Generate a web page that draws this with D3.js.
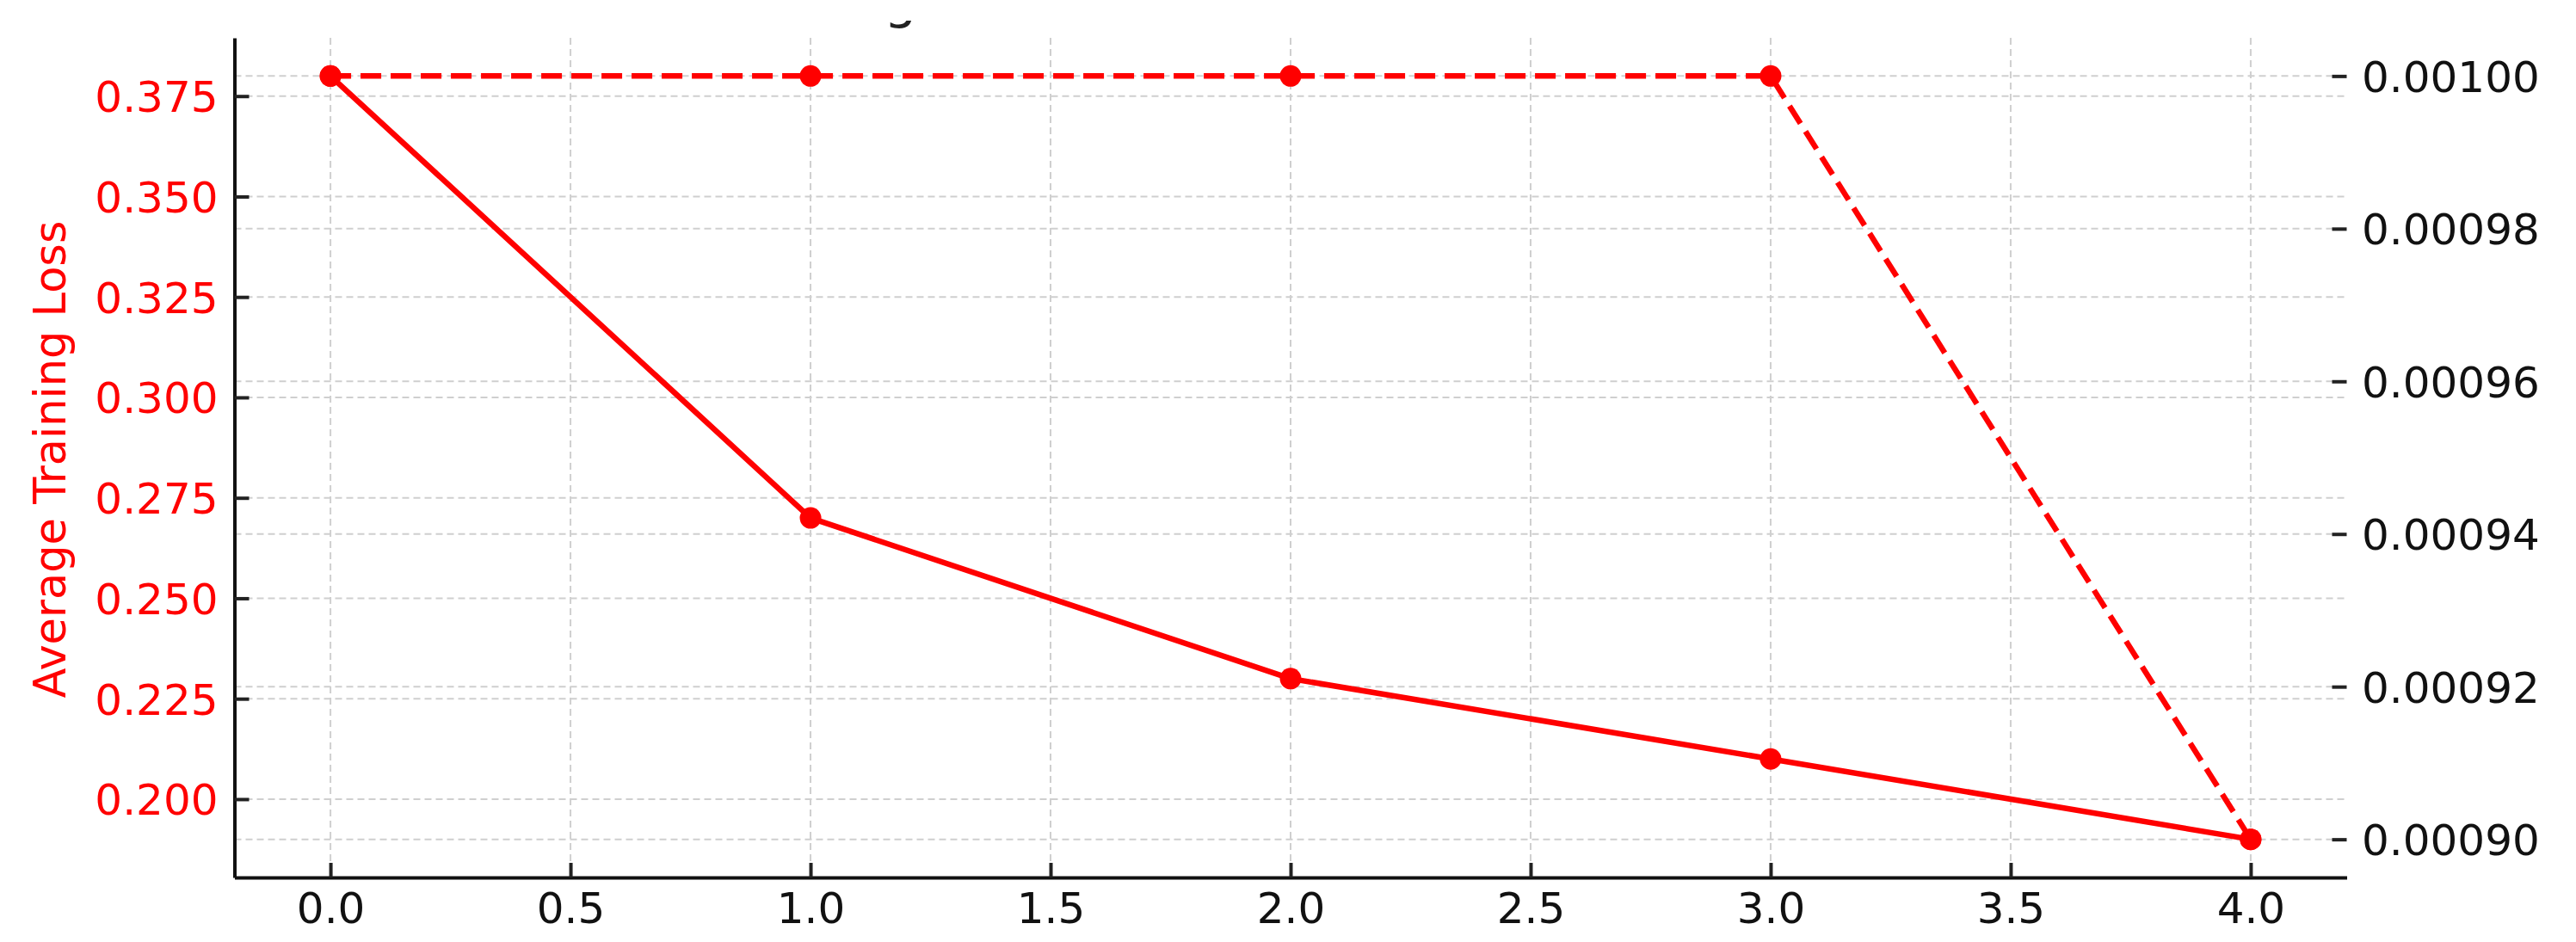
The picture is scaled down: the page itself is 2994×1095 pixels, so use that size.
<!DOCTYPE html>
<html>
<head>
<meta charset="utf-8">
<script src="https://cdn.jsdelivr.net/npm/d3@7"></script>
<style>
  body { margin: 0; background: #fff; }
  svg { display: block; }
  text { font-family: "DejaVu Sans", sans-serif; }
</style>
</head>
<body>
<svg id="chart" width="2994" height="1095"></svg>
<script>
// values
var epochs = [0, 1, 2, 3, 4];
var avgLoss = [0.38, 0.27, 0.23, 0.21, 0.19];
var learningRate = [0.001, 0.001, 0.001, 0.001, 0.0009];

var xTicks = [0, 0.5, 1, 1.5, 2, 2.5, 3, 3.5, 4];
var lossTicks = [0.2, 0.225, 0.25, 0.275, 0.3, 0.325, 0.35, 0.375];
var lrTicks = [0.0009, 0.00092, 0.00094, 0.00096, 0.00098, 0.001];

var titleText = "Training Loss and Learning Rate over Epochs";
var yLabelText = "Average Training Loss";

//plot box (window.top is read only, so no plain "top" here)
var plotL = 272.5, plotR = 2727.5, plotT = 44, plotB = 1020;
var red = "#ff0000", ink = "#111";

//matplotlib style 5% margin round the data
function padded(vals) {
    var e = d3.extent(vals), m = (e[1] - e[0]) * 0.05;
    return [e[0] - m, e[1] + m];
}

var x = d3.scaleLinear().domain(padded(epochs)).range([plotL, plotR]);
var yLoss = d3.scaleLinear().domain(padded(avgLoss)).range([plotB, plotT]);
var yLr = d3.scaleLinear().domain(padded(learningRate)).range([plotB, plotT]);

var svg = d3.select("#chart");

//title sits mostly above the picture, only the tail of one g shows
svg.append("clipPath").attr("id", "titleClip")
    .append("rect").attr("x", 0).attr("y", 24).attr("width", 1100).attr("height", 20);
svg.append("text")
    .attr("clip-path", "url(#titleClip)")
    .attr("x", (plotL + plotR) / 2).attr("y", 20)
    .attr("text-anchor", "middle")
    .attr("font-size", 60)
    .attr("fill", "#222")
    .text(titleText);

//grid: vertical from x ticks, horizontal from both y axes
var grid = svg.append("g")
    .attr("stroke", "#cfcfcf")
    .attr("stroke-width", 2)
    .attr("stroke-dasharray", "8,5");

grid.selectAll(".vg").data(xTicks).enter().append("line")
    .attr("x1", d => x(d)).attr("x2", d => x(d))
    .attr("y1", plotT).attr("y2", plotB);

grid.selectAll(".hl").data(lossTicks).enter().append("line")
    .attr("x1", plotL).attr("x2", plotR)
    .attr("y1", d => yLoss(d)).attr("y2", d => yLoss(d));

grid.selectAll(".hr").data(lrTicks).enter().append("line")
    .attr("x1", plotL).attr("x2", plotR)
    .attr("y1", d => yLr(d)).attr("y2", d => yLr(d));

//axes, ticks pointing inward
function styleAxis(g, colour, keepDomain) {
    g.attr("font-size", 50).attr("font-family", "DejaVu Sans, sans-serif");
    g.selectAll(".tick line").attr("stroke", "#222").attr("stroke-width", 4);
    g.selectAll(".tick text").attr("fill", colour);
    if (keepDomain) {
        g.select(".domain").attr("stroke", "#111").attr("stroke-width", 4);
    } else {
        g.select(".domain").remove();
    }
}

var xAxis = svg.append("g")
    .attr("transform", "translate(0," + plotB + ")")
    .call(d3.axisBottom(x).tickValues(xTicks).tickFormat(d3.format(".1f"))
        .tickSize(-17).tickSizeOuter(0).tickPadding(17.5));
styleAxis(xAxis, ink, true);

var leftAxis = svg.append("g")
    .attr("transform", "translate(" + plotL + ",0)")
    .call(d3.axisLeft(yLoss).tickValues(lossTicks).tickFormat(d3.format(".3f"))
        .tickSize(-17).tickSizeOuter(0).tickPadding(19));
styleAxis(leftAxis, red, true);
leftAxis.selectAll(".tick text").attr("dy", "0.36em");

var rightAxis = svg.append("g")
    .attr("transform", "translate(" + plotR + ",0)")
    .call(d3.axisRight(yLr).tickValues(lrTicks).tickFormat(d3.format(".5f"))
        .tickSize(-17).tickSizeOuter(0).tickPadding(17.5));
styleAxis(rightAxis, ink, false);
rightAxis.selectAll(".tick text").attr("dy", "0.36em");

svg.append("text")
    .attr("transform", "translate(76,534) rotate(-90)")
    .attr("text-anchor", "middle")
    .attr("font-size", 51)
    .attr("fill", red)
    .text(yLabelText);

//loss line (solid) on the left scale
var lossLine = d3.line().x((d, i) => x(epochs[i])).y(d => yLoss(d));
svg.append("path").datum(avgLoss)
    .attr("d", lossLine)
    .attr("fill", "none")
    .attr("stroke", red)
    .attr("stroke-width", 6.5)
    .attr("stroke-linejoin", "round");
svg.selectAll(".lossDot").data(avgLoss).enter().append("circle")
    .attr("cx", (d, i) => x(epochs[i])).attr("cy", d => yLoss(d))
    .attr("r", 12.5).attr("fill", red);

//learning rate line (dashed) on the right scale
var lrLine = d3.line().x((d, i) => x(epochs[i])).y(d => yLr(d));
svg.append("path").datum(learningRate)
    .attr("d", lrLine)
    .attr("fill", "none")
    .attr("stroke", red)
    .attr("stroke-width", 6.5)
    .attr("stroke-dasharray", "24,11");
svg.selectAll(".lrDot").data(learningRate).enter().append("circle")
    .attr("cx", (d, i) => x(epochs[i])).attr("cy", d => yLr(d))
    .attr("r", 12.5).attr("fill", red);
</script>
</body>
</html>
